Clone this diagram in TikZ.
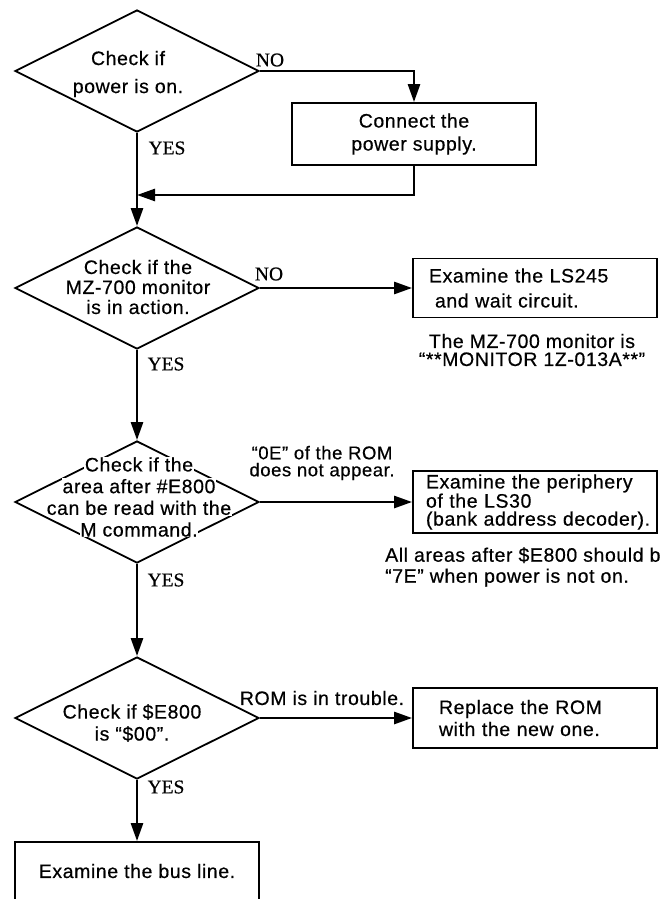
\documentclass[tikz,border=0pt]{standalone}
\usepackage{fontspec}
\setmainfont{Liberation Sans}[LetterSpace=3, FakeBold=0.5]
\newfontfamily\ynfont{Liberation Serif}[FakeBold=0.5]
\usetikzlibrary{shapes.geometric,arrows.meta}
\newcommand{\wbg}[1]{{\setlength{\fboxsep}{0.6pt}\colorbox{white}{#1}}}

\begin{document}
\begin{tikzpicture}[
    x=1pt, y=-1pt,
    decision/.style={diamond, draw=black, line width=1.8pt, minimum width=244pt, minimum height=122pt, inner sep=0pt},
    dtext/.style={align=center, inner sep=0pt},
    box/.style={rectangle, draw=black, line width=1.8pt, minimum width=244pt, inner ysep=2pt},
    note/.style={inner sep=0pt},
    yn/.style={font=\ynfont\fontsize{19.5}{20}\selectfont, inner sep=0pt},
    flow/.style={line width=2.6pt, -{Triangle[length=18pt,width=12pt]}},
    font=\fontsize{19.5}{22}\selectfont
]
\clip (0,0) rectangle (662,899);

% Decisions
\node[decision] (d1) at (137,71) {};
\node[decision] (d2) at (137,288) {};
\node[decision] (d3) at (137,502) {};
\node[decision] (d4) at (137,718) {};

% Decision texts
\node[dtext, font=\fontsize{19.5}{28}\selectfont] (t1) at (128,74) {Check if\\power is on.};
\node[dtext, font=\fontsize{19.5}{20}\selectfont] (t2) at (138,287) {Check if the\\MZ-700 monitor\\is in action.};
\node[dtext, font=\fontsize{19.5}{21.7}\selectfont] (t3) at (139,497) {\wbg{Check if the}\\\wbg{area after \#E800}\\\wbg{can be read with the}\\\wbg{M command.}};
\node[dtext] (t4) at (132,723) {Check if \$E800\\is “\$00”.};

% Boxes
\node[box, align=center, minimum height=62pt, font=\fontsize{19.5}{23}\selectfont] (c1) at (414,134) {Connect the\\power supply.};
\node[box, align=left, minimum height=59pt, inner xsep=16pt, text width=212pt, font=\fontsize{19.5}{25}\selectfont] (c2) at (535,288) {Examine the LS245\\\hspace*{6pt}and wait circuit.};
\node[box, align=left, minimum height=62pt, inner xsep=13pt, text width=218pt, font=\fontsize{19.5}{18}\selectfont] (c3) at (535,502) {Examine the periphery\\of the LS30\\\mbox{(bank address decoder).}};
\node[box, align=left, minimum height=60pt, inner xsep=26pt, text width=192pt] (c4) at (535,718) {Replace the ROM\\with the new one.};
\node[box, align=center, minimum height=58pt] (c5) at (137,871) {Examine the bus line.};

% Notes
\node[note, align=center, font=\fontsize{19.5}{18}\selectfont] (n2) at (532,350) {The MZ-700 monitor is\\“**MONITOR 1Z-013A**”};
\node[note, align=left, anchor=west, font=\fontsize{19.5}{21}\selectfont] (n3) at (385,567) {All areas after \$E800 should b\\“7E” when power is not on.};
\node[note, align=center, font=\fontsize{18.5}{17}\selectfont] (l3) at (322,463) {“0E” of the ROM\\does not appear.};
\node[note] (l4) at (322,698) {ROM is in trouble.};

% YES / NO
\node[yn] (no1) at (270,60) {NO};
\node[yn] (no2) at (269,274) {NO};
\node[yn] (yes1) at (167,148) {YES};
\node[yn] (yes2) at (166,364) {YES};
\node[yn] (yes3) at (166,580) {YES};
\node[yn] (yes4) at (166,787) {YES};

% Connectors
\coordinate (j1) at (137,195);
\draw[flow] (d1.east) -| (c1.north);
\draw[flow] (c1.south) |- (j1);
\draw[flow] (d1.south) -- (d2.north);
\draw[flow] (d2.east) -- (c2.west);
\draw[flow] (d2.south) -- (d3.north);
\draw[flow] (d3.east) -- (c3.west);
\draw[flow] (d3.south) -- (d4.north);
\draw[flow] (d4.east) -- (c4.west);
\draw[flow] (d4.south) -- (c5.north);

\end{tikzpicture}
\end{document}
